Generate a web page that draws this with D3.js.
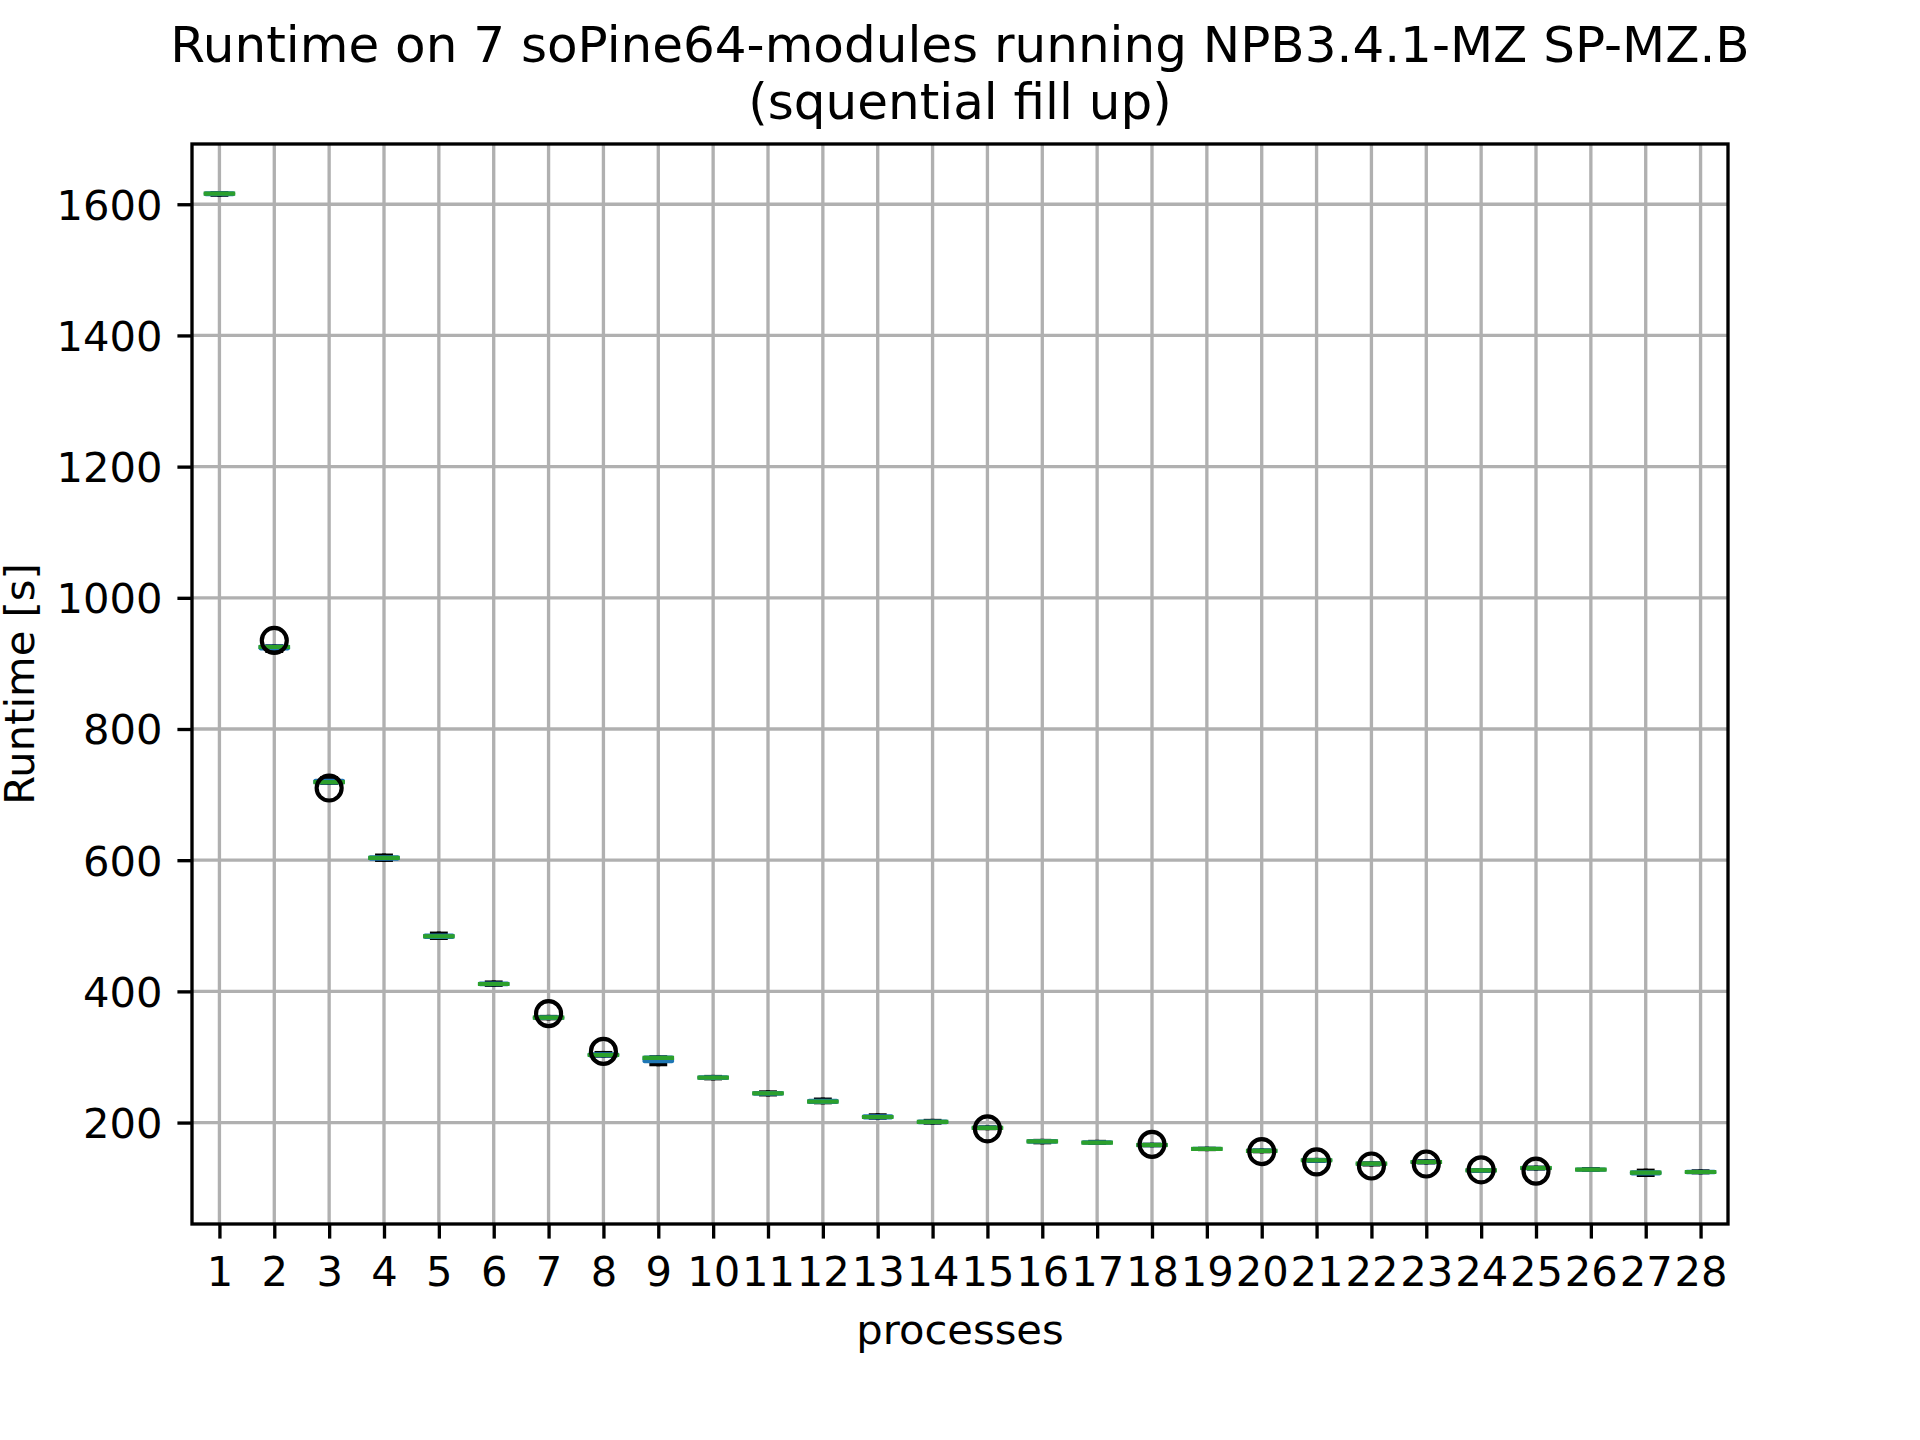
<!DOCTYPE html>
<html>
<head>
<meta charset="utf-8">
<script src="https://cdn.jsdelivr.net/npm/d3@7"></script>
<style>
  html, body { margin: 0; padding: 0; background: #ffffff; }
  svg { display: block; }
</style>
</head>
<body>
<script>
// ---------------- data ----------------
const processes = [1,2,3,4,5,6,7,8,9,10,11,12,13,14,15,16,17,18,19,20,21,22,23,24,25,26,27,28];
const whiskerLow  = [1614.5, 919, 718, 600.5, 481.5, 410, 359, 302, 289, 267.5, 243, 231, 207.5, 200, 191.5, 170, 169, 165.5, 159.6, 156.3, 141.5, 136.2, 139.3, 126.5, 130, 128, 120.2, 124.2];
const quart1      = [1615.5, 923, 718.5, 602.5, 483, 410.8, 359.5, 302.5, 293.5, 268, 244, 231.5, 208, 200.5, 191.8, 170.8, 169.2, 165.6, 159.7, 156.7, 142, 137, 139.6, 126.8, 130.4, 128.1, 122.5, 124.4];
const medians     = [1616.3, 925, 719, 603.5, 484, 411.3, 360, 303, 298.5, 268.5, 244.6, 232, 208.5, 201, 192, 171.4, 169.4, 165.8, 159.8, 156.9, 142.5, 137.4, 139.9, 127.2, 130.7, 128.3, 123.7, 124.6];
const quart3      = [1616.8, 925.5, 721, 604.5, 485, 412, 360.5, 304, 299, 269, 245, 233, 209.5, 201.5, 192.3, 171.8, 169.8, 166, 159.9, 157.1, 142.8, 137.6, 140.2, 127.3, 131, 128.5, 124.1, 124.8];
const whiskerHigh = [1617, 926, 725, 607, 488, 413.5, 361, 306, 299.5, 269.5, 246, 235, 211, 202.5, 192.6, 172, 170.5, 166.1, 160, 157.3, 143, 137.8, 141, 127.4, 131.2, 129, 126.6, 125.6];
// outliers: [process, runtime]
const fliers = [[2, 935], [3, 710], [7, 366], [8, 308.5], [15, 190.5], [18, 166.8], [20, 155.8], [21, 140], [22, 133.8], [23, 136.8], [24, 128], [25, 126]];
const yTicks = [200, 400, 600, 800, 1000, 1200, 1400, 1600];
const titleLines = ["Runtime on 7 soPine64-modules running NPB3.4.1-MZ SP-MZ.B", "(squential fill up)"];
const xLabel = "processes";
const yLabel = "Runtime [s]";

// ---------------- layout ----------------
const W = 1920, H = 1440;
const L = 192, R = 1728, T = 144, B = 1224;
const PT = 300 / 72;
const lw = 1.0 * PT;        // box line width
const axLw = 0.8 * PT;      // spine / grid width
const tickLen = 3.5 * PT;
const font = "'DejaVu Sans', 'Liberation Sans', sans-serif";

const svg = d3.select("body").append("svg")
  .attr("width", W).attr("height", H)
  .attr("xmlns", "http://www.w3.org/2000/svg");
svg.append("rect").attr("width", W).attr("height", H).attr("fill", "#ffffff");

const x = d3.scaleLinear().domain([0.5, processes.length + 0.5]).range([L, R]);
const allVals = whiskerLow.concat(whiskerHigh, fliers.map(f => f[1]));
const dMin = d3.min(allVals), dMax = d3.max(allVals), pad = 0.05 * (dMax - dMin);
const y = d3.scaleLinear().domain([dMin - pad, dMax + pad]).range([B, T]);

// ---------------- grid ----------------
const grid = svg.append("g").attr("stroke", "#b0b0b0").attr("stroke-width", axLw);
grid.selectAll("line.gx").data(processes).join("line")
  .attr("class", "gx")
  .attr("x1", d => x(d)).attr("x2", d => x(d))
  .attr("y1", T).attr("y2", B);
grid.selectAll("line.gy").data(yTicks).join("line")
  .attr("class", "gy")
  .attr("x1", L).attr("x2", R)
  .attr("y1", d => y(d)).attr("y2", d => y(d));

// ---------------- boxes ----------------
const boxW = x(1.5) - x(1);          // width 0.5 in data units
const capW = boxW / 2;
const stats = processes.map((p, i) => ({
  p, lo: whiskerLow[i], q1: quart1[i], med: medians[i], q3: quart3[i], hi: whiskerHigh[i]
}));

const marks = svg.append("g").attr("fill", "none").attr("stroke-width", lw)
  .attr("stroke-linecap", "square").attr("stroke-linejoin", "round");

// whiskers
marks.selectAll("line.wl").data(stats).join("line").attr("class", "wl")
  .attr("stroke", "#000")
  .attr("x1", d => x(d.p)).attr("x2", d => x(d.p))
  .attr("y1", d => y(d.q1)).attr("y2", d => y(d.lo));
marks.selectAll("line.wh").data(stats).join("line").attr("class", "wh")
  .attr("stroke", "#000")
  .attr("x1", d => x(d.p)).attr("x2", d => x(d.p))
  .attr("y1", d => y(d.q3)).attr("y2", d => y(d.hi));
// caps
marks.selectAll("line.cl").data(stats).join("line").attr("class", "cl")
  .attr("stroke", "#000")
  .attr("x1", d => x(d.p) - capW / 2).attr("x2", d => x(d.p) + capW / 2)
  .attr("y1", d => y(d.lo)).attr("y2", d => y(d.lo));
marks.selectAll("line.ch").data(stats).join("line").attr("class", "ch")
  .attr("stroke", "#000")
  .attr("x1", d => x(d.p) - capW / 2).attr("x2", d => x(d.p) + capW / 2)
  .attr("y1", d => y(d.hi)).attr("y2", d => y(d.hi));
// boxes
marks.selectAll("path.box").data(stats).join("path").attr("class", "box")
  .attr("stroke", "#1f77b4")
  .attr("d", d => {
    const x0 = x(d.p) - boxW / 2, x1 = x(d.p) + boxW / 2;
    const ya = y(d.q1), yb = y(d.q3);
    return `M${x0},${ya}L${x1},${ya}L${x1},${yb}L${x0},${yb}Z`;
  });
// medians
marks.selectAll("line.med").data(stats).join("line").attr("class", "med")
  .attr("stroke", "#2ca02c")
  .attr("x1", d => x(d.p) - boxW / 2).attr("x2", d => x(d.p) + boxW / 2)
  .attr("y1", d => y(d.med)).attr("y2", d => y(d.med));
// fliers
marks.selectAll("circle.fl").data(fliers).join("circle").attr("class", "fl")
  .attr("stroke", "#000")
  .attr("cx", d => x(d[0])).attr("cy", d => y(d[1]))
  .attr("r", 3 * PT);

// ---------------- axes ----------------
const xAxis = d3.axisBottom(x).tickValues(processes).tickFormat(d3.format("d"))
  .tickSize(tickLen).tickSizeOuter(0);
const gx = svg.append("g").attr("transform", `translate(0,${B})`).call(xAxis);
gx.select(".domain").remove();
gx.selectAll(".tick line").attr("stroke", "#000").attr("stroke-width", axLw);
gx.selectAll(".tick text").attr("y", 62).attr("dy", 0)
  .attr("fill", "#000").attr("font-size", 10 * PT).attr("font-family", font);

const yAxis = d3.axisLeft(y).tickValues(yTicks).tickFormat(d3.format("d"))
  .tickSize(tickLen).tickSizeOuter(0);
const gy = svg.append("g").attr("transform", `translate(${L},0)`).call(yAxis);
gy.select(".domain").remove();
gy.selectAll(".tick line").attr("stroke", "#000").attr("stroke-width", axLw);
gy.selectAll(".tick text").attr("x", -29.5).attr("dy", "0.36em")
  .attr("fill", "#000").attr("font-size", 10 * PT).attr("font-family", font);

// spines
svg.append("rect").attr("x", L).attr("y", T).attr("width", R - L).attr("height", B - T)
  .attr("fill", "none").attr("stroke", "#000").attr("stroke-width", axLw)
  .attr("stroke-linejoin", "miter");

// ---------------- labels ----------------
svg.append("text").attr("x", (L + R) / 2).attr("y", 1344)
  .attr("text-anchor", "middle").attr("font-family", font).attr("font-size", 10 * PT)
  .attr("fill", "#000").text(xLabel);
svg.append("text").attr("transform", `translate(33.5,${(T + B) / 2}) rotate(-90)`)
  .attr("text-anchor", "middle").attr("font-family", font).attr("font-size", 10 * PT)
  .attr("fill", "#000").text(yLabel);
const title = svg.append("text").attr("text-anchor", "middle").attr("font-family", font)
  .attr("font-size", 12 * PT).attr("fill", "#000");
title.selectAll("tspan").data(titleLines).join("tspan")
  .attr("x", (L + R) / 2).attr("y", (d, i) => i === 0 ? 62 : 119).text(d => d);
</script>
</body>
</html>
